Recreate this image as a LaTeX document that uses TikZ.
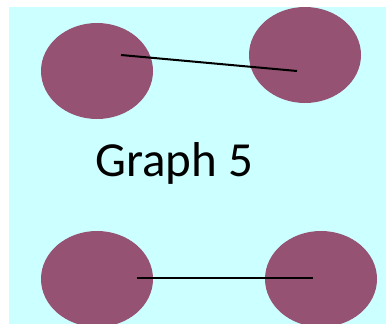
\documentclass[tikz,border=0pt]{standalone}
\usepackage{fontspec}
\setmainfont{Carlito}
\usetikzlibrary{shapes.geometric}
\definecolor{bgcyan}{RGB}{204,255,255}
\definecolor{blob}{RGB}{149,82,114}
\tikzset{
  vert/.style={ellipse, fill=blob, draw=none, minimum width=112pt, minimum height=96pt, inner sep=0pt},
  edgeline/.style={line width=2pt, black},
}
\begin{document}
\begin{tikzpicture}[x=1pt,y=-1pt]
\useasboundingbox (0,0) rectangle (386,324);
\clip (0,0) rectangle (386,324);
\fill[bgcyan] (9,7) rectangle (386,324);
\node[vert] (tl) at (97,71) {};
\node[vert] (tr) at (305,55) {};
\node[vert] (bl) at (97,279) {};
\node[vert] (br) at (321,279) {};
\coordinate (tla) at (121,55);
\coordinate (trb) at (297,71);
\coordinate (bla) at (137,278);
\coordinate (brb) at (313,278);
\draw[edgeline] (tla) -- (trb);
\draw[edgeline] (bla) -- (brb);
\node[anchor=base west, inner sep=0pt, font=\fontsize{49}{58}\selectfont] (title) at (95,176) {Graph 5};
\end{tikzpicture}
\end{document}
